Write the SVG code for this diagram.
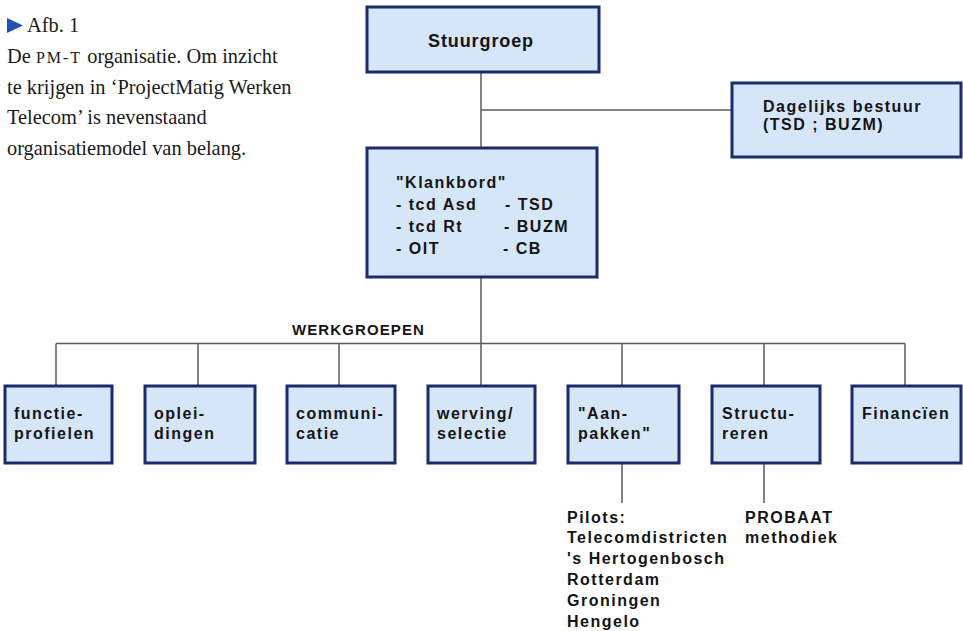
<svg xmlns="http://www.w3.org/2000/svg" width="963" height="631" viewBox="0 0 963 631">
  <style>
    .box { fill: #d6e6f9; stroke: #1b2b6c; stroke-width: 3; }
    .lbl { font-family: "Liberation Sans", Arial, sans-serif; font-weight: bold; font-size: 16px; letter-spacing: 1.5px; fill: #141414; }
    .big { font-size: 18px; letter-spacing: 0.9px; }
    .head { font-size: 15px; letter-spacing: 1.1px; }
    .cap { font-family: "Liberation Serif", "Times New Roman", serif; font-size: 20.4px; fill: #1a1a1a; }
    .sc { font-size: 16px; letter-spacing: 2px; }
    .wire { stroke: #5a5a5a; stroke-width: 1.5; fill: none; }
  </style>

  <rect width="963" height="631" fill="#ffffff"/>

  <!-- caption -->
  <g id="caption">
    <polygon points="7,18 23,25.5 7,33" fill="#2450b8"/>
    <text class="cap" x="27" y="32">Afb. 1</text>
    <text class="cap" x="7" y="63">De <tspan class="sc">PM-T</tspan> organisatie. Om inzicht</text>
    <text class="cap" x="7" y="93.5">te krijgen in ‘ProjectMatig Werken</text>
    <text class="cap" x="7" y="124">Telecom’ is nevenstaand</text>
    <text class="cap" x="7" y="155">organisatiemodel van belang.</text>
  </g>

  <!-- connectors -->
  <g id="connectors">
    <line class="wire" x1="481" y1="72" x2="481" y2="148"/>
    <line class="wire" x1="481" y1="110" x2="732" y2="110"/>
    <line class="wire" x1="481" y1="277" x2="481" y2="386"/>
    <line class="wire" x1="56" y1="343.5" x2="905" y2="343.5"/>
    <line class="wire" x1="56" y1="343.5" x2="56" y2="386"/>
    <line class="wire" x1="198" y1="343.5" x2="198" y2="386"/>
    <line class="wire" x1="339" y1="343.5" x2="339" y2="386"/>
    <line class="wire" x1="622" y1="343.5" x2="622" y2="386"/>
    <line class="wire" x1="764" y1="343.5" x2="764" y2="386"/>
    <line class="wire" x1="905" y1="343.5" x2="905" y2="386"/>
    <line class="wire" x1="622" y1="463" x2="622" y2="503"/>
    <line class="wire" x1="764" y1="463" x2="764" y2="503"/>
    <text class="lbl head" x="292" y="335">WERKGROEPEN</text>
  </g>

  <g id="stuurgroep">
    <rect class="box" x="367" y="7" width="232" height="65"/>
    <text class="lbl big" x="481" y="47" text-anchor="middle">Stuurgroep</text>
  </g>

  <g id="dagelijks-bestuur">
    <rect class="box" x="732" y="83" width="229" height="74"/>
    <text class="lbl" x="763" y="112">Dagelijks bestuur</text>
    <text class="lbl" x="763" y="130">(TSD ; BUZM)</text>
  </g>

  <g id="klankbord">
    <rect class="box" x="367" y="148" width="230" height="129"/>
    <text class="lbl" x="396" y="188">"Klankbord"</text>
    <text class="lbl" x="396" y="210">- tcd Asd</text>
    <text class="lbl" x="396" y="232">- tcd Rt</text>
    <text class="lbl" x="396" y="254">- OIT</text>
    <text class="lbl" x="505" y="210">- TSD</text>
    <text class="lbl" x="504" y="232">- BUZM</text>
    <text class="lbl" x="503" y="254">- CB</text>
  </g>

  <g id="functieprofielen">
    <rect class="box" x="5" y="386" width="107" height="77"/>
    <text class="lbl" x="14" y="419">functie-</text>
    <text class="lbl" x="14" y="439">profielen</text>
  </g>

  <g id="opleidingen">
    <rect class="box" x="145" y="386" width="110" height="77"/>
    <text class="lbl" x="154" y="419">oplei-</text>
    <text class="lbl" x="154" y="439">dingen</text>
  </g>

  <g id="communicatie">
    <rect class="box" x="287" y="386" width="108" height="77"/>
    <text class="lbl" x="296" y="419">communi-</text>
    <text class="lbl" x="296" y="439">catie</text>
  </g>

  <g id="werving-selectie">
    <rect class="box" x="428" y="386" width="107" height="77"/>
    <text class="lbl" x="437" y="419">werving/</text>
    <text class="lbl" x="437" y="439">selectie</text>
  </g>

  <g id="aanpakken">
    <rect class="box" x="568" y="386" width="111" height="77"/>
    <text class="lbl" x="578" y="419">"Aan-</text>
    <text class="lbl" x="578" y="439">pakken"</text>
  </g>

  <g id="structureren">
    <rect class="box" x="712" y="386" width="108" height="77"/>
    <text class="lbl" x="722" y="419">Structu-</text>
    <text class="lbl" x="722" y="439">reren</text>
  </g>

  <g id="financien">
    <rect class="box" x="852" y="386" width="109" height="77"/>
    <text class="lbl" x="862" y="419">Financïen</text>
  </g>

  <g id="pilots">
    <text class="lbl" x="567" y="522.5">Pilots:</text>
    <text class="lbl" x="567" y="543.3">Telecomdistricten</text>
    <text class="lbl" x="567" y="564.1">'s Hertogenbosch</text>
    <text class="lbl" x="567" y="584.9">Rotterdam</text>
    <text class="lbl" x="567" y="605.7">Groningen</text>
    <text class="lbl" x="567" y="626.5">Hengelo</text>
  </g>

  <g id="probaat">
    <text class="lbl" x="745" y="522.5">PROBAAT</text>
    <text class="lbl" x="745" y="543.3">methodiek</text>
  </g>
</svg>
